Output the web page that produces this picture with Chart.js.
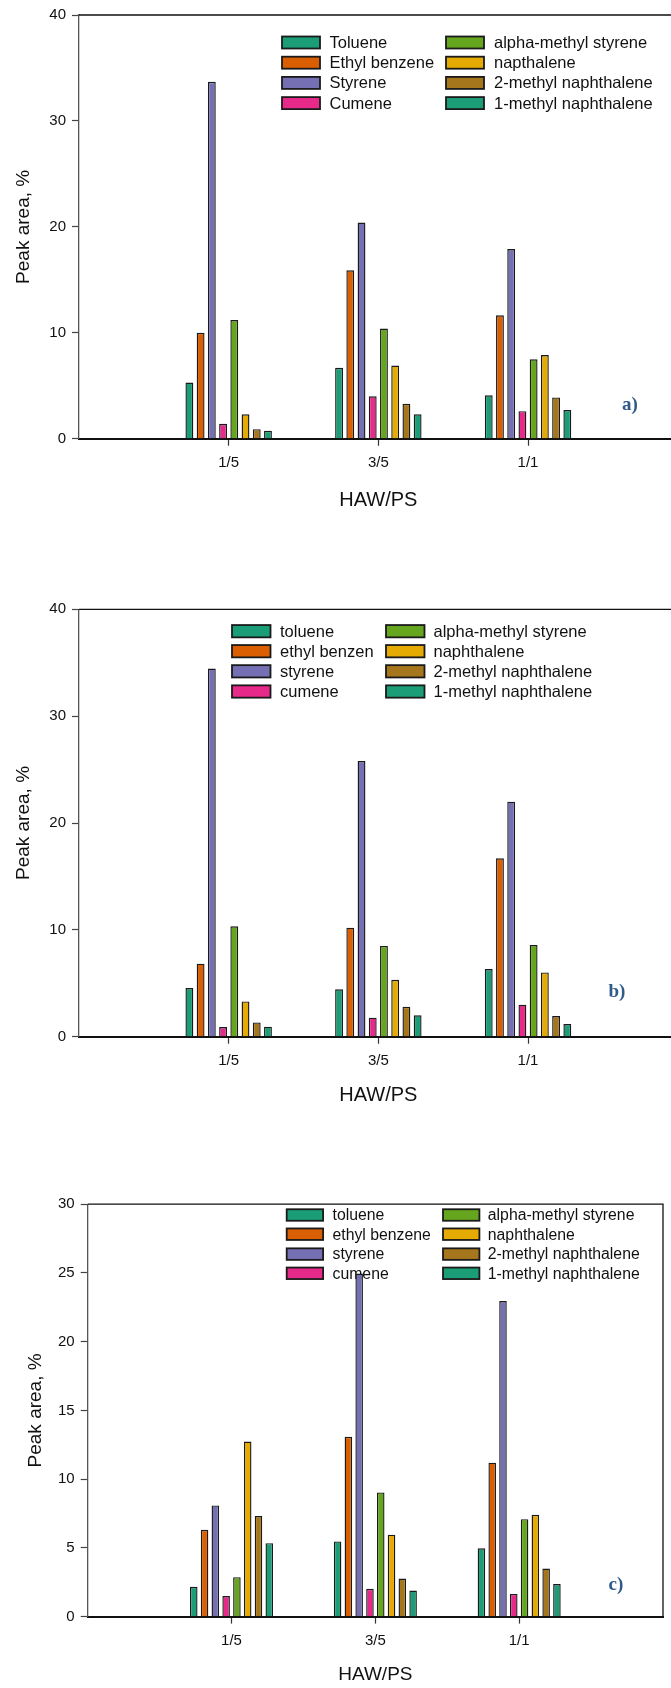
<!DOCTYPE html>
<html>
<head>
<meta charset="utf-8">
<script src="https://cdn.jsdelivr.net/npm/chart.js@4.4.1/dist/chart.umd.min.js"></script>
<style>
  html, body { margin: 0; padding: 0; background: #fff; overflow: hidden; }
  body { width: 671px; height: 1688px; position: relative; }
  canvas { position: absolute; left: 0; }
</style>
</head>
<body>
<canvas id="chartA" width="700" height="520" style="top:0px"></canvas>
<canvas id="chartB" width="700" height="540" style="top:580px"></canvas>
<canvas id="chartC" width="671" height="538" style="top:1150px"></canvas>
<script>
// shared
const categories = ['1/5', '3/5', '1/1'];
const xTitle = 'HAW/PS';
const yTitle = 'Peak area, %';

// legend names per panel
const namesA = ['Toluene', 'Ethyl benzene', 'Styrene', 'Cumene', 'alpha-methyl styrene', 'napthalene', '2-methyl naphthalene', '1-methyl naphthalene'];
const namesB = ['toluene', 'ethyl benzen', 'styrene', 'cumene', 'alpha-methyl styrene', 'naphthalene', '2-methyl naphthalene', '1-methyl naphthalene'];
const namesC = ['toluene', 'ethyl benzene', 'styrene', 'cumene', 'alpha-methyl styrene', 'naphthalene', '2-methyl naphthalene', '1-methyl naphthalene'];

// a) values in order 1/5, 3/5, 1/1
const aToluene = [5.3, 6.7, 4.1];
const aEthylBenzene = [10.0, 15.9, 11.65];
const aStyrene = [33.7, 20.4, 17.9];
const aCumene = [1.4, 4.0, 2.6];
const aAlphaMethylStyrene = [11.2, 10.4, 7.5];
const aNaphthalene = [2.3, 6.9, 7.9];
const a2MethylNaphthalene = [0.9, 3.3, 3.9];
const a1MethylNaphthalene = [0.75, 2.3, 2.7];

// b)
const bToluene = [4.55, 4.43, 6.33];
const bEthylBenzene = [6.83, 10.2, 16.7];
const bStyrene = [34.45, 25.8, 22.0];
const bCumene = [0.9, 1.78, 3.0];
const bAlphaMethylStyrene = [10.33, 8.5, 8.58];
const bNaphthalene = [3.3, 5.33, 6.02];
const b2MethylNaphthalene = [1.34, 2.8, 1.93];
const b1MethylNaphthalene = [0.94, 2.0, 1.19];

// c)
const cToluene = [2.17, 5.47, 4.97];
const cEthylBenzene = [6.31, 13.08, 11.2];
const cStyrene = [8.09, 24.96, 22.96];
const cCumene = [1.5, 2.02, 1.65];
const cAlphaMethylStyrene = [2.87, 9.03, 7.09];
const cNaphthalene = [12.73, 5.96, 7.41];
const c2MethylNaphthalene = [7.31, 2.77, 3.49];
const c1MethylNaphthalene = [5.34, 1.9, 2.37];

// y axis ranges
const yMaxAB = 40, yStepAB = 10;
const yMaxC = 30, yStepC = 5;

const colors = ['#1B9E77', '#D95F02', '#7570B3', '#E7298A', '#66A61E', '#E6AB02', '#A6761D', '#1B9E77'];
const sans = "'Liberation Sans', Arial, sans-serif";

// legend, frame and panel letter
const panelDecor = {
  id: 'panelDecor',
  beforeDatasetsDraw(chart, args, o) {
    const ctx = chart.ctx;
    ctx.save();
    ctx.font = o.font;
    ctx.textBaseline = 'middle';
    ctx.textAlign = 'left';
    chart.data.datasets.forEach((ds, i) => {
      const col = i < 4 ? 0 : 1;
      const y = o.rows[i % 4];
      const bx = o.boxX[col];
      ctx.fillStyle = ds.backgroundColor;
      ctx.fillRect(bx, y - o.boxH / 2, o.boxW, o.boxH);
      ctx.lineWidth = 1.8;
      ctx.strokeStyle = '#1a1a1a';
      ctx.strokeRect(bx, y - o.boxH / 2, o.boxW, o.boxH);
      ctx.fillStyle = '#111';
      ctx.fillText(ds.label, o.textX[col], y + 1);
    });
    ctx.restore();
  },
  afterDraw(chart, args, o) {
    const ctx = chart.ctx;
    const a = chart.chartArea;
    ctx.save();
    ctx.strokeStyle = '#111';
    ctx.lineWidth = 1.3;
    ctx.beginPath();
    ctx.moveTo(a.left, a.top);
    ctx.lineTo(a.right, a.top);
    ctx.lineTo(a.right, a.bottom);
    ctx.stroke();
    ctx.font = "bold 19px 'Liberation Serif', 'Times New Roman', serif";
    ctx.fillStyle = '#2F5B8A';
    ctx.textAlign = 'center';
    ctx.textBaseline = 'middle';
    ctx.fillText(o.tag, o.tagX, o.tagY);
    ctx.restore();
  }
};

function makeChart(id, names, series, yMax, yStep, lay) {
  const labels = [''].concat(categories, ['']);
  const datasets = series.map((vals, i) => ({
    label: names[i],
    data: [null].concat(vals, [null]),
    backgroundColor: colors[i],
    borderColor: '#1a1a1a',
    borderWidth: 1.4,
    categoryPercentage: 0.6,
    barPercentage: 0.7
  }));
  const yTitleLH = 19 * 1.2;
  const xTitleLH = lay.xTitleSize * 1.2;
  return new Chart(document.getElementById(id), {
    type: 'bar',
    data: { labels: labels, datasets: datasets },
    options: {
      responsive: false,
      animation: false,
      devicePixelRatio: 1,
      layout: { padding: { top: lay.top, left: 0, right: lay.w - lay.right, bottom: 0 } },
      plugins: {
        legend: { display: false },
        tooltip: { enabled: false },
        panelDecor: lay.decor
      },
      scales: {
        x: {
          offset: false,
          afterFit: (s) => { s.height = lay.h - lay.bottom; },
          border: { display: true, color: '#111', width: 2 },
          grid: {
            offset: false,
            drawOnChartArea: false,
            tickLength: 7,
            tickWidth: 1.2,
            color: (c) => (c.index === 0 || c.index === labels.length - 1) ? 'rgba(0,0,0,0)' : '#333'
          },
          ticks: { autoSkip: false, maxRotation: 0, padding: 8, color: '#111', font: { family: sans, size: 15 } },
          title: {
            display: true,
            text: xTitle,
            color: '#111',
            font: { family: sans, size: lay.xTitleSize },
            padding: { top: 0, bottom: lay.h - lay.xTitleY - xTitleLH / 2 }
          }
        },
        y: {
          min: 0,
          max: yMax,
          afterFit: (s) => { s.width = lay.left; },
          border: { display: true, color: '#555', width: 1.3 },
          grid: { drawOnChartArea: false, tickLength: 7, tickWidth: 1.2, color: '#444' },
          ticks: { stepSize: yStep, padding: 6, color: '#111', font: { family: sans, size: 15 } },
          title: {
            display: true,
            text: yTitle,
            color: '#111',
            font: { family: sans, size: 19 },
            padding: { top: lay.yTitleX - yTitleLH / 2, bottom: 0 }
          }
        }
      }
    },
    plugins: [panelDecor]
  });
}

makeChart('chartA', namesA,
  [aToluene, aEthylBenzene, aStyrene, aCumene, aAlphaMethylStyrene, aNaphthalene, a2MethylNaphthalene, a1MethylNaphthalene],
  yMaxAB, yStepAB,
  { w: 700, h: 520, top: 10.7, bottom: 438.7, left: 79, right: 677.7, yTitleX: 23.5, xTitleY: 500, xTitleSize: 20,
    decor: { font: '16.5px ' + sans, boxX: [282, 446], textX: [329.5, 494], rows: [42.5, 62.7, 82.9, 103.1], boxW: 38, boxH: 12, tag: 'a)', tagX: 630, tagY: 405 } });

makeChart('chartB', namesB,
  [bToluene, bEthylBenzene, bStyrene, bCumene, bAlphaMethylStyrene, bNaphthalene, b2MethylNaphthalene, b1MethylNaphthalene],
  yMaxAB, yStepAB,
  { w: 700, h: 540, top: 29.3, bottom: 456.7, left: 79, right: 677.7, yTitleX: 23.5, xTitleY: 515, xTitleSize: 20,
    decor: { font: '16.5px ' + sans, boxX: [232, 386], textX: [280, 433.5], rows: [51.2, 71.2, 91.3, 111.5], boxW: 38.5, boxH: 12.3, tag: 'b)', tagX: 617, tagY: 411.7 } });

makeChart('chartC', namesC,
  [cToluene, cEthylBenzene, cStyrene, cCumene, cAlphaMethylStyrene, cNaphthalene, c2MethylNaphthalene, c1MethylNaphthalene],
  yMaxC, yStepC,
  { w: 671, h: 538, top: 54.2, bottom: 466.6, left: 87.7, right: 665.4, yTitleX: 35.5, xTitleY: 525, xTitleSize: 19,
    decor: { font: '15.8px ' + sans, boxX: [286.7, 443], textX: [332.5, 487.8], rows: [65.0, 84.2, 104.1, 123.3], boxW: 36.4, boxH: 11.5, tag: 'c)', tagX: 616, tagY: 435 } });
</script>
</body>
</html>
